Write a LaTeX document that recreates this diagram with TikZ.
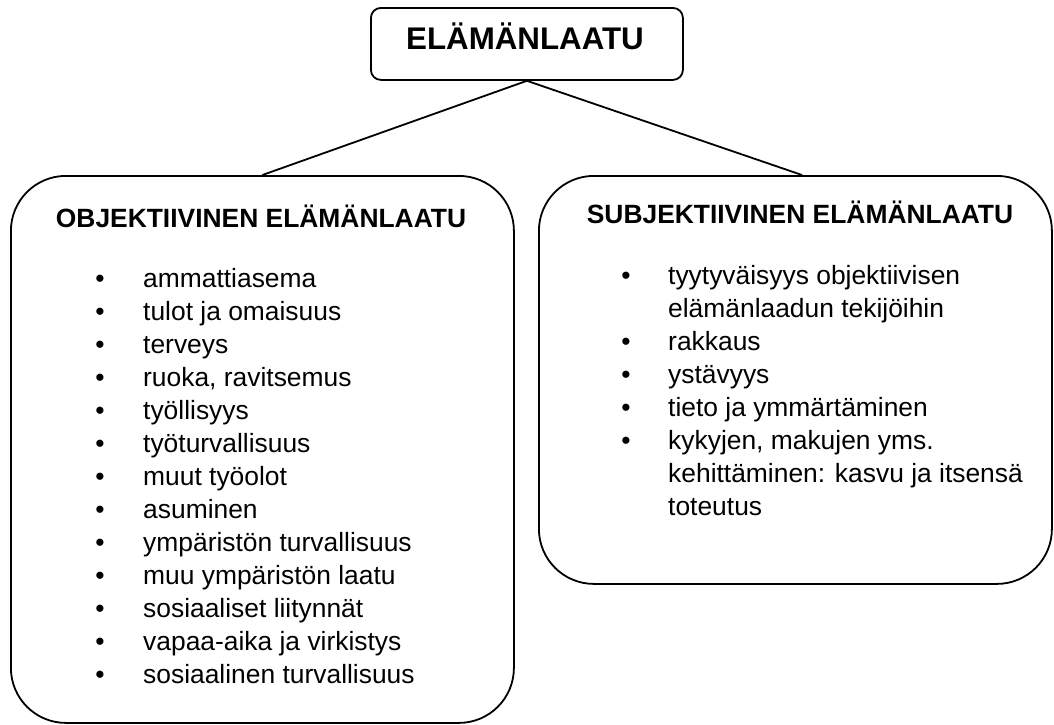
\documentclass[tikz,border=0pt]{standalone}
\usepackage{fontspec}
\setmainfont{Liberation Sans}
\begin{document}
\begin{tikzpicture}[x=1pt,y=-1pt,
  box/.style={draw, line width=1.8pt, rectangle, inner sep=0pt},
  conn/.style={line width=1.8pt},
  body/.style={inner sep=0pt, font=\fontsize{26.4}{33}\selectfont},
  head/.style={inner sep=0pt, font=\fontsize{26.4}{33}\selectfont\bfseries},
  titletxt/.style={inner sep=0pt, font=\fontsize{31.3}{36}\selectfont\bfseries},
  bul/.style={inner sep=0pt, font=\fontsize{26.4}{33}\selectfont}]
\useasboundingbox (0,0) rectangle (1054,724);
% boxes
\node[box, rounded corners=10pt, minimum width=312pt, minimum height=72pt, anchor=north west] (top) at (370,7) {};
\node[box, rounded corners=55pt, minimum width=503pt, minimum height=547pt, anchor=north west] (left) at (10,175) {};
\node[box, rounded corners=55pt, minimum width=513pt, minimum height=408pt, anchor=north west] (right) at (538,175) {};
\coordinate (rtop) at (802,175);
% connectors
\draw[conn] (top.south) -- (left.north);
\draw[conn] (top.south) -- (rtop);
% title
\node[titletxt, anchor=base] (title) at (525,49) {ELÄMÄNLAATU};
% headings
\node[head, anchor=base] (lhead) at (261,227) {OBJEKTIIVINEN ELÄMÄNLAATU};
\node[head, anchor=base] (rhead) at (800,223) {SUBJEKTIIVINEN ELÄMÄNLAATU};
% left list
\foreach \t [count=\i from 0] in {ammattiasema, tulot ja omaisuus, terveys, {ruoka, ravitsemus}, työllisyys, työturvallisuus, muut työolot, asuminen, ympäristön turvallisuus, muu ympäristön laatu, sosiaaliset liitynnät, vapaa-aika ja virkistys, sosiaalinen turvallisuus}{
  \node[bul, anchor=base] (lb\i) at (100,287+33*\i) {•};
  \node[body, anchor=base west] (lt\i) at (143,287+33*\i) {\t};
}
% right list
\node[bul, anchor=base] (rb1) at (626,284) {•};
\node[body, anchor=base west] (rt1) at (668,284) {tyytyväisyys objektiivisen};
\node[body, anchor=base west] (rt1b) at (668,317) {elämänlaadun tekijöihin};
\node[bul, anchor=base] (rb2) at (626,350) {•};
\node[body, anchor=base west] (rt2) at (668,350) {rakkaus};
\node[bul, anchor=base] (rb3) at (626,383) {•};
\node[body, anchor=base west] (rt3) at (668,383) {ystävyys};
\node[bul, anchor=base] (rb4) at (626,416) {•};
\node[body, anchor=base west] (rt4) at (668,416) {tieto ja ymmärtäminen};
\node[bul, anchor=base] (rb5) at (626,449) {•};
\node[body, anchor=base west] (rt5) at (668,449) {kykyjen, makujen yms.};
\node[body, anchor=base west] (rt5b) at (668,482) {kehittäminen: kasvu ja itsensä};
\node[body, anchor=base west] (rt5c) at (668,515) {toteutus};
\end{tikzpicture}
\end{document}
